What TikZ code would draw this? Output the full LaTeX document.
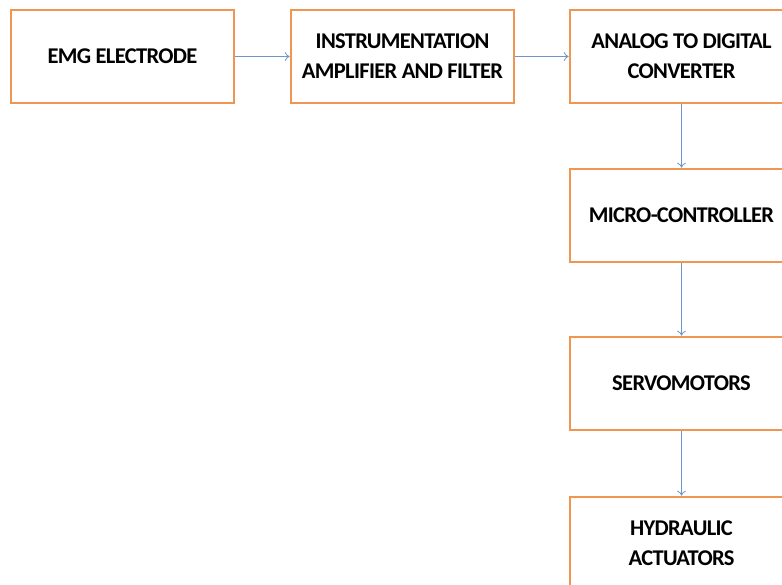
\documentclass[tikz,border=0pt]{standalone}
\usepackage{fontspec}
\setmainfont{Carlito}
\newfontfamily\boxfont[LetterSpace=-3]{Carlito}
\usetikzlibrary{arrows.meta}
\definecolor{boxorange}{RGB}{240,150,80}
\definecolor{arrowblue}{RGB}{110,150,200}
\begin{document}
\begin{tikzpicture}[x=1pt,y=-1pt,
  blk/.style={draw=boxorange, line width=2.6pt, fill=white, minimum width=223pt, minimum height=93pt,
    inner sep=0pt, align=center, font=\boxfont\fontsize{22.5}{30}\selectfont\bfseries},
  conn/.style={draw=arrowblue, line width=0.8pt, -{To[length=5pt,width=9pt]}}]
\useasboundingbox (0,0) rectangle (782,585);
\clip (0,0) rectangle (782,585);
\node[blk] (emg) at (122.5,56.5) {EMG ELECTRODE};
\node[blk] (amp) at (402.5,56.5) {INSTRUMENTATION\\AMPLIFIER AND FILTER};
\node[blk] (adc) at (681.5,56.5) {ANALOG TO DIGITAL\\CONVERTER};
\node[blk] (mcu) at (681.5,215.5) {MICRO-CONTROLLER};
\node[blk] (servo) at (681.5,383.5) {SERVOMOTORS};
\node[blk] (hyd) at (681.5,543.5) {HYDRAULIC\\ACTUATORS};
\draw[conn] (emg) -- (amp);
\draw[conn] (amp) -- (adc);
\draw[conn] (adc) -- (mcu);
\draw[conn] (mcu) -- (servo);
\draw[conn] (servo) -- (hyd);
\end{tikzpicture}
\end{document}
